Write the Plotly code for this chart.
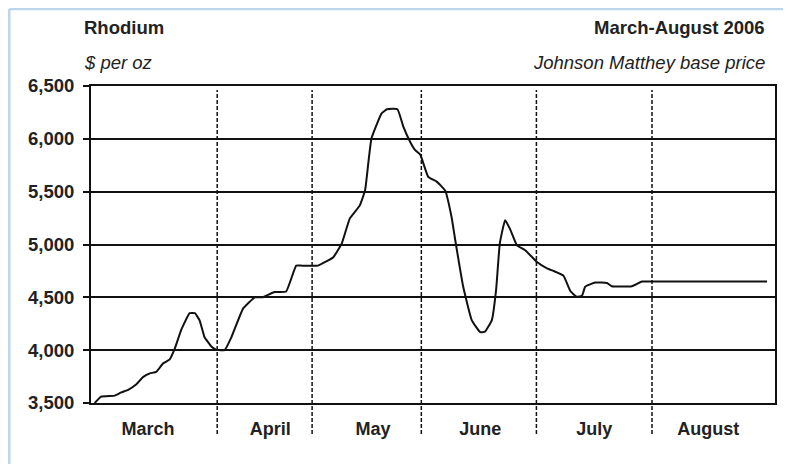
import plotly.graph_objects as go

# Trading-day index (x) and Johnson Matthey base price in $/oz (y)
day_index = [0.7, 1.9, 4.5, 5.7, 7.0, 8.5, 9.8, 11.1, 12.3, 13.6, 14.8, 15.8, 17.0, 18.6,
             19.6, 20.5, 21.4, 22.7, 23.6, 25.2, 26.5, 28.7, 30.9, 32.4, 34.6, 36.8, 38.7,
             39.8, 42.8, 45.7, 47.3, 48.8, 50.7, 51.7, 52.3, 52.9, 54.8, 55.8, 57.8, 58.9,
             60.2, 61.1, 62.1, 63.6, 65.2, 66.8, 68.0, 68.7, 70.2, 71.8, 73.4, 74.3, 75.6,
             76.4, 77.1, 78.1, 79.0, 80.3, 81.9, 84.1, 86.0, 87.2, 89.1, 90.4, 91.6, 92.6,
             93.2, 95.1, 97.3, 98.2, 102.0, 103.9, 105.0, 127.5]
price = [3500, 3560, 3570, 3600, 3625, 3675, 3745, 3780, 3795, 3875, 3910, 4015, 4190, 4350,
         4350, 4280, 4125, 4035, 4005, 4000, 4125, 4395, 4500, 4500, 4550, 4555, 4800,
         4800, 4800, 4880, 5010, 5245, 5370, 5515, 5770, 6005, 6240, 6280, 6280, 6115,
         5970, 5895, 5850, 5640, 5595, 5510, 5260, 5040, 4600, 4285, 4170, 4175, 4285,
         4570, 5010, 5230, 5150, 4995, 4945, 4835, 4775, 4750, 4705, 4560, 4505, 4515,
         4600, 4640, 4635, 4605, 4605, 4650, 4650, 4650]

months = ["March", "April", "May", "June", "July", "August"]
month_centers = [10.75, 33.8, 53.2, 73.4, 94.9, 116.4]
month_boundaries = [23.8, 41.7, 62.3, 84.0, 105.8]
y_ticks = [3500, 4000, 4500, 5000, 5500, 6000, 6500]

FONT = "Liberation Sans, Arial, sans-serif"
TXT = "#222222"
INK = "#111111"

fig = go.Figure()
fig.add_trace(go.Scatter(x=day_index, y=price, mode="lines",
                         line=dict(color=INK, width=2, shape="spline", smoothing=0.35),
                         hoverinfo="skip", showlegend=False))

shapes = []
for b in month_boundaries:
    shapes.append(dict(type="line", xref="x", yref="paper", x0=b, x1=b, y0=-0.098, y1=0.987,
                       line=dict(color=INK, width=1.5, dash="4px,2px")))
# light blue frame edges (left and top)
shapes.append(dict(type="line", xref="paper", yref="paper", x0=-0.1195, x1=-0.1195,
                   y0=-0.25, y1=1.243, line=dict(color="#BCD6EE", width=2.5)))
shapes.append(dict(type="line", xref="paper", yref="paper", x0=-0.1195, x1=1.05,
                   y0=1.243, y1=1.243, line=dict(color="#BCD6EE", width=2.5)))

annotations = [
    dict(text="<b>Rhodium</b>", x=-0.0125, y=1.186, xref="paper", yref="paper",
         xanchor="left", yanchor="middle", showarrow=False,
         font=dict(family=FONT, size=18.5, color=TXT)),
    dict(text="<i>$ per oz</i>", x=-0.0125, y=1.073, xref="paper", yref="paper",
         xanchor="left", yanchor="middle", showarrow=False,
         font=dict(family=FONT, size=18.5, color=TXT)),
    dict(text="<b>March-August 2006</b>", x=0.988, y=1.186, xref="paper", yref="paper",
         xanchor="right", yanchor="middle", showarrow=False,
         font=dict(family=FONT, size=18.5, color=TXT)),
    dict(text="<i>Johnson Matthey base price</i>", x=0.988, y=1.073, xref="paper",
         yref="paper", xanchor="right", yanchor="middle", showarrow=False,
         font=dict(family=FONT, size=18.5, color=TXT)),
]

fig.update_layout(
    width=783, height=456,
    margin=dict(l=83, r=16, t=78, b=61),
    paper_bgcolor="white", plot_bgcolor="white",
    shapes=shapes, annotations=annotations,
    xaxis=dict(range=[0, 129], tickmode="array", tickvals=month_centers, ticktext=months,
               ticks="", showgrid=False, zeroline=False, showline=True, mirror=True,
               linecolor=INK, linewidth=2, ticklabelstandoff=8,
               tickfont=dict(family=FONT, size=18, color=TXT, weight="bold")),
    yaxis=dict(range=[3500, 6500], tickmode="array", tickvals=y_ticks,
               tickformat=",", ticks="outside", ticklen=6, tickwidth=1.5,
               tickcolor=INK, showgrid=True, gridcolor=INK, gridwidth=1.5,
               zeroline=False, showline=True, mirror=True, linecolor=INK,
               linewidth=2, ticklabelstandoff=5,
               tickfont=dict(family=FONT, size=18.5, color=TXT, weight="bold")),
)

fig.write_html("out.html")
